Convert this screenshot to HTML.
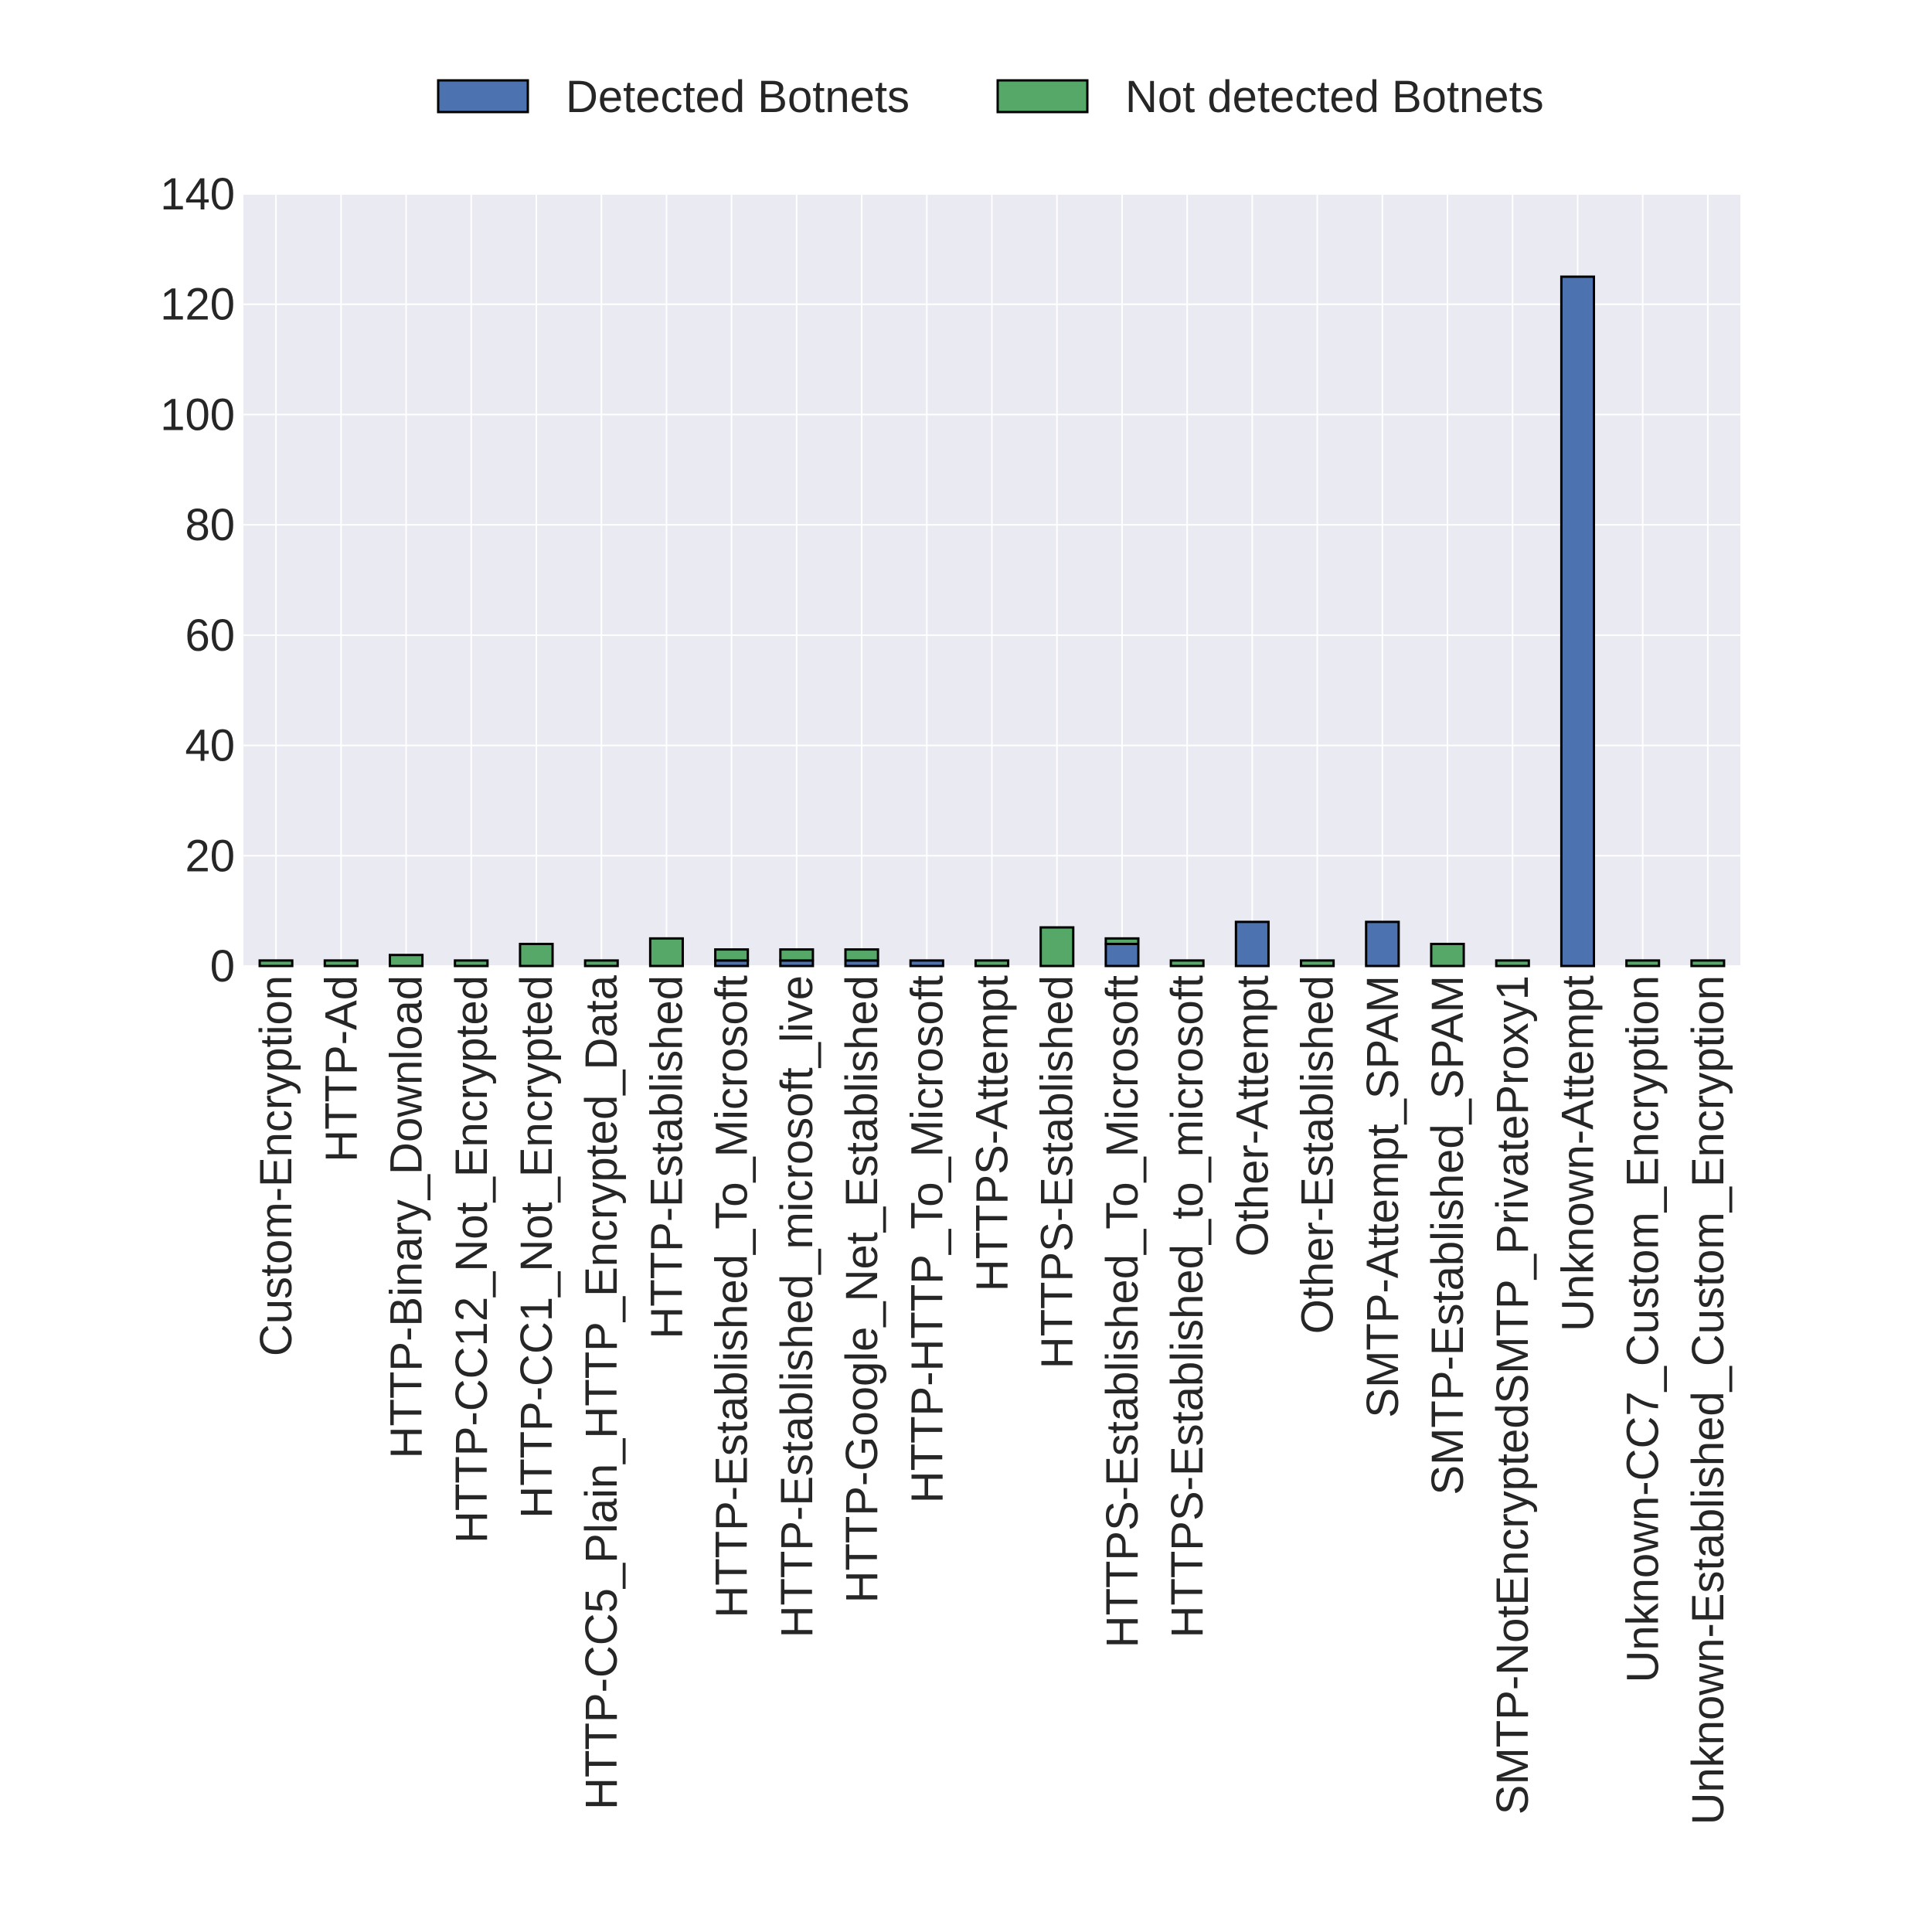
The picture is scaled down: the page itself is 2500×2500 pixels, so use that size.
<!DOCTYPE html>
<html><head><meta charset="utf-8"><style>html,body{margin:0;padding:0;background:#fff}svg{display:block}text{font-family:"Liberation Sans",Arial,sans-serif;fill:#262626}</style></head>
<body>
<svg id="chart" width="2500" height="2500" viewBox="0 0 2500 2500" xmlns="http://www.w3.org/2000/svg">
<rect x="315" y="251" width="1937" height="999" fill="#EAEAF2"/>
<g id="grid"></g><g id="bars"></g><g id="xlabels"></g><g id="ylabels"></g>
<g>
<rect x="567" y="104" width="116" height="41" fill="#4C72B0" stroke="#000" stroke-width="3"/>
<text x="732" y="145" font-size="58">Detected Botnets</text>
<rect x="1291" y="104" width="116" height="41" fill="#55A868" stroke="#000" stroke-width="3"/>
<text x="1456" y="145" font-size="58">Not detected Botnets</text>
</g>
</svg>
<script>
const categories = ["Custom-Encryption","HTTP-Ad","HTTP-Binary_Download","HTTP-CC12_Not_Encrypted","HTTP-CC1_Not_Encrypted","HTTP-CC5_Plain_HTTP_Encrypted_Data","HTTP-Established","HTTP-Established_To_Microsoft","HTTP-Established_microsoft_live","HTTP-Google_Net_Established","HTTP-HTTP_To_Microsoft","HTTPS-Attempt","HTTPS-Established","HTTPS-Established_To_Microsoft","HTTPS-Established_to_microsoft","Other-Attempt","Other-Established","SMTP-Attempt_SPAM","SMTP-Established_SPAM","SMTP-NotEncryptedSMTP_PrivateProxy1","Unknown-Attempt","Unknown-CC7_Custom_Encryption","Unknown-Established_Custom_Encryption"];
const detected = [0,0,0,0,0,0,0,1,1,1,1,0,0,4,0,8,0,8,0,0,125,0,0];
const notDetected = [1,1,2,1,4,1,5,2,2,2,0,1,7,1,1,0,1,0,4,1,0,1,1];
const yTicks = [0,20,40,60,80,100,120,140];

const NS="http://www.w3.org/2000/svg";
const L=315,R=2252,T=251,B=1250,YMAX=140;
const step=(R-L)/categories.length;
const xc=i=>L+step*(i+0.5);
const y=v=>B-(v/YMAX)*(B-T);
function mk(tag,attrs,parent){const e=document.createElementNS(NS,tag);for(const k in attrs)e.setAttribute(k,attrs[k]);parent.appendChild(e);return e;}
const grid=document.getElementById('grid'),bars=document.getElementById('bars'),xl=document.getElementById('xlabels'),yl=document.getElementById('ylabels');
yTicks.forEach(v=>{
  const g=mk('line',{x1:L,x2:R,y1:y(v),y2:y(v),stroke:'#fff','stroke-width':2},grid);
  
  
  const t=mk('text',{x:304,y:y(v)+20,'font-size':58,'text-anchor':'end'},yl);
  t.textContent=v;
  
  
});
const bw=step*0.5;
categories.forEach((c,i)=>{
  const g=mk('line',{x1:xc(i),x2:xc(i),y1:T,y2:B,stroke:'#fff','stroke-width':2},grid);
  
  
  if(detected[i]>0){
    const b=mk('rect',{x:xc(i)-bw/2,y:y(detected[i]),width:bw,height:y(0)-y(detected[i]),fill:'#4C72B0',stroke:'#000','stroke-width':3},bars);
    
    
  }
  if(notDetected[i]>0){
    const top=detected[i]+notDetected[i];
    const b=mk('rect',{x:xc(i)-bw/2,y:y(top),width:bw,height:y(detected[i])-y(top),fill:'#55A868',stroke:'#000','stroke-width':3},bars);
    
    
  }
  const t=mk('text',{x:0,y:0,'font-size':58,'text-anchor':'end',transform:`translate(${xc(i)+20},1262) rotate(-90)`},xl);
  t.textContent=c;
  
  
});
</script>
</body></html>
